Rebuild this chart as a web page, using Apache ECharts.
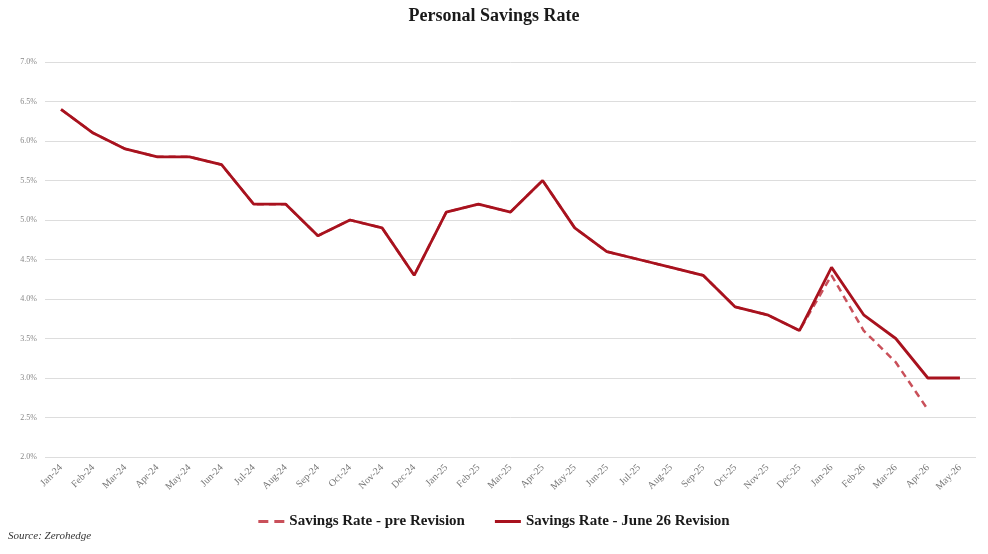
<!DOCTYPE html>
<html>
<head>
<meta charset="utf-8">
<script src="https://cdn.jsdelivr.net/npm/echarts@6/dist/echarts.min.js"></script>
<style>
  html, body { margin: 0; padding: 0; background: #fff; }
  #chart { width: 988px; height: 554px; }
</style>
</head>
<body>
<div id="chart"></div>
<script>
const months = [
  'Jan-24', 'Feb-24', 'Mar-24', 'Apr-24', 'May-24', 'Jun-24', 'Jul-24', 'Aug-24', 'Sep-24', 'Oct-24', 'Nov-24', 'Dec-24',
  'Jan-25', 'Feb-25', 'Mar-25', 'Apr-25', 'May-25', 'Jun-25', 'Jul-25', 'Aug-25', 'Sep-25', 'Oct-25', 'Nov-25', 'Dec-25',
  'Jan-26', 'Feb-26', 'Mar-26', 'Apr-26', 'May-26'
];

// pre revision series (ends at Apr-26)
const preRevision = [
  6.4, 6.1, 5.9, 5.8, 5.8, 5.7, 5.2, 5.2, 4.8, 5.0, 4.9, 4.3,
  5.1, 5.2, 5.1, 5.5, 4.9, 4.6, 4.5, 4.4, 4.3, 3.9, 3.8, 3.6,
  4.3, 3.6, 3.2, 2.6, null
];

const juneRevision = [
  6.4, 6.1, 5.9, 5.8, 5.8, 5.7, 5.2, 5.2, 4.8, 5.0, 4.9, 4.3,
  5.1, 5.2, 5.1, 5.5, 4.9, 4.6, 4.5, 4.4, 4.3, 3.9, 3.8, 3.6,
  4.4, 3.8, 3.5, 3.0, 3.0
];

const serif = '"Liberation Serif", "DejaVu Serif", serif';

const chart = echarts.init(document.getElementById('chart'));

chart.setOption({
  backgroundColor: '#fff',
  animation: false,
  title: {
    text: 'Personal Savings Rate',
    left: 'center',
    top: 2,
    textStyle: { fontFamily: serif, fontSize: 18, fontWeight: 'bold', color: '#1a1a1a' }
  },
  graphic: [{
    type: 'text',
    left: 8,
    top: 531,
    style: { text: 'Source: Zerohedge', font: 'italic 11px ' + serif, fill: '#333' }
  }],
  legend: {
    bottom: 20,
    left: 'center',
    itemWidth: 26,
    itemHeight: 10,
    itemGap: 30,
    textStyle: { fontFamily: serif, fontSize: 15, fontWeight: 'bold', color: '#1a1a1a' },
    data: [
      { name: 'Savings Rate - pre Revision', icon: 'path://M0,0 L10,0 L10,3 L0,3 Z M16,0 L26,0 L26,3 L16,3 Z' },
      { name: 'Savings Rate - June 26 Revision', icon: 'path://M0,0 L26,0 L26,3 L0,3 Z' }
    ]
  },
  grid: { left: 45, right: 12, top: 62, bottom: 97 },
  xAxis: {
    type: 'category',
    data: months,
    boundaryGap: true,
    axisLine: { show: false },
    axisTick: { show: false },
    axisLabel: {
      rotate: 45,
      interval: 0,
      margin: 9,
      fontFamily: serif,
      fontSize: 10,
      color: '#777'
    }
  },
  yAxis: {
    type: 'value',
    min: 2,
    max: 7,
    interval: 0.5,
    axisLine: { show: false },
    axisTick: { show: false },
    splitLine: { lineStyle: { color: '#dddddd', width: 1 } },
    axisLabel: {
      formatter: v => v.toFixed(1) + '%',
      fontFamily: serif,
      fontSize: 8,
      color: '#888',
      margin: 8
    }
  },
  series: [
    {
      name: 'Savings Rate - pre Revision',
      type: 'line',
      data: preRevision,
      symbol: 'none',
      color: '#c9505a',
      lineStyle: { color: '#c9505a', width: 2.5, type: [7, 5] },
      z: 2
    },
    {
      name: 'Savings Rate - June 26 Revision',
      type: 'line',
      data: juneRevision,
      symbol: 'none',
      color: '#a8121e',
      lineStyle: { color: '#a8121e', width: 2.8 },
      z: 3
    }
  ]
});
</script>
</body>
</html>
